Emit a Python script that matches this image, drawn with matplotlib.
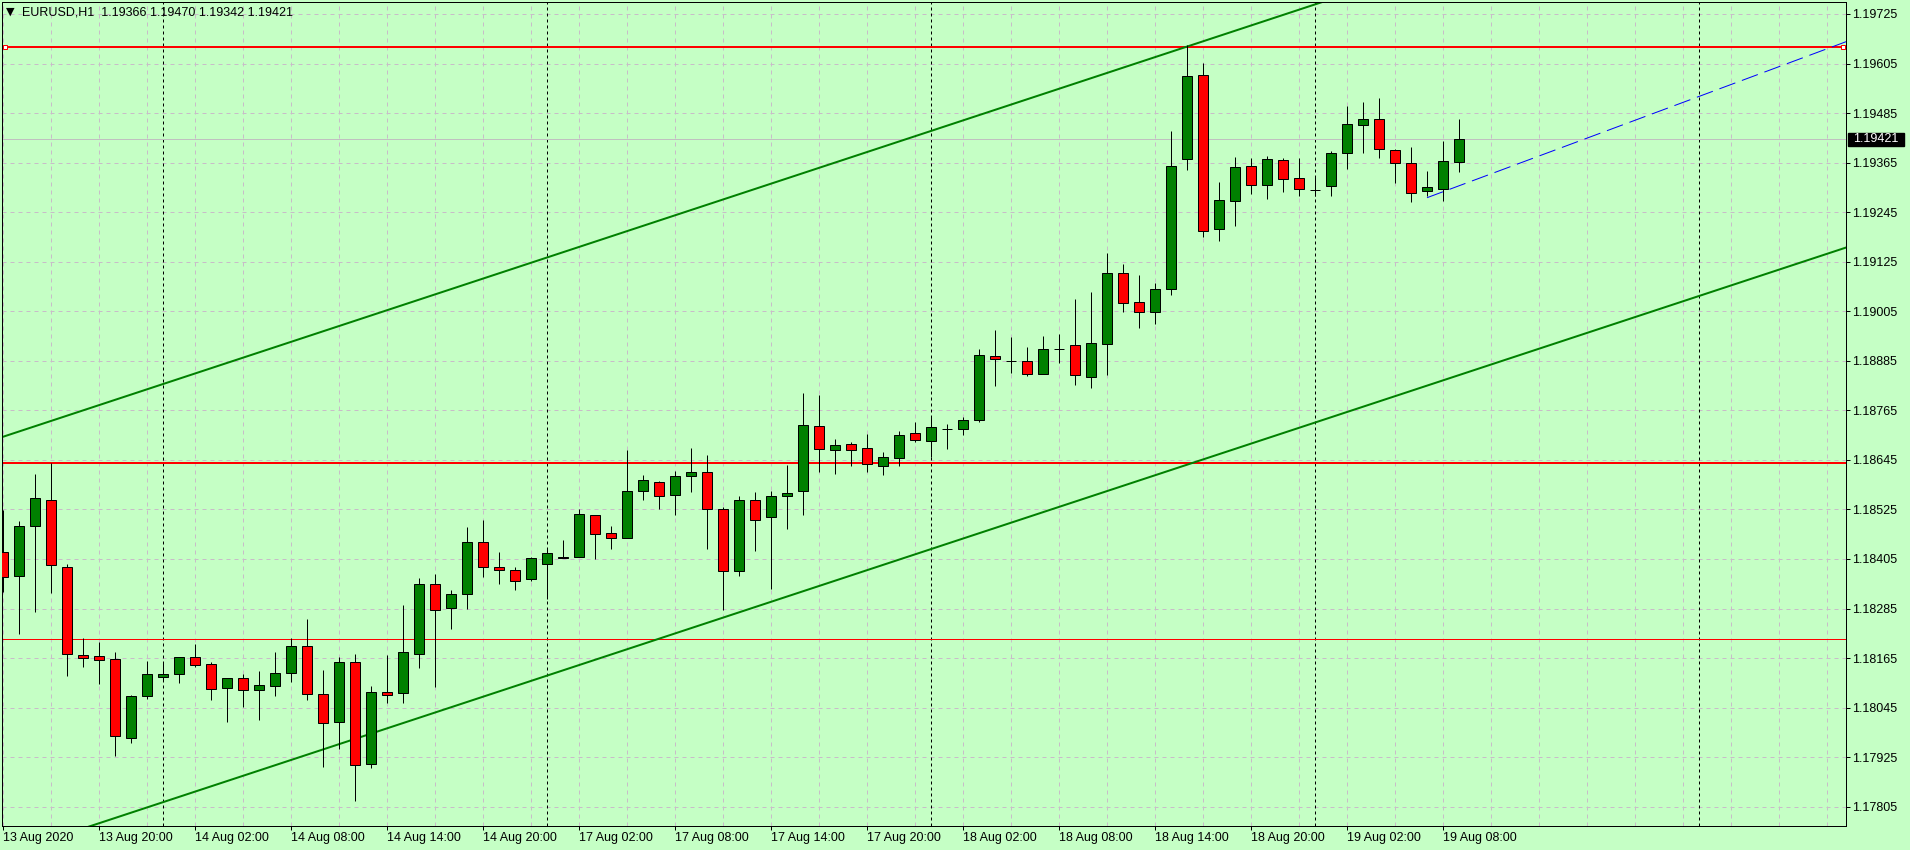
import numpy as np
import matplotlib
matplotlib.use('Agg')
import matplotlib.pyplot as plt
from matplotlib.patches import Rectangle

plt.rcParams['font.family'] = ['Liberation Sans', 'DejaVu Sans']
plt.rcParams['lines.scale_dashes'] = False

PX = 0.72  # one screen pixel in points at dpi=100

# H1 bars, 13 Aug 2020 14:00 -> 19 Aug 2020 09:00
opens = [1.18421, 1.18363, 1.18484, 1.18547, 1.18385, 1.18172, 1.18169, 1.18162, 1.17971, 1.18074,
         1.18120, 1.18127, 1.18167, 1.18150, 1.18092, 1.18116, 1.18087, 1.18098, 1.18128, 1.18194,
         1.18077, 1.18010, 1.18155, 1.17908, 1.18082, 1.18080, 1.18174, 1.18344, 1.18286, 1.18320,
         1.18445, 1.18385, 1.18378, 1.18356, 1.18392, 1.18407, 1.18409, 1.18511, 1.18467, 1.18455,
         1.18569, 1.18591, 1.18559, 1.18605, 1.18615, 1.18525, 1.18375, 1.18547, 1.18506, 1.18557,
         1.18569, 1.18726, 1.18670, 1.18683, 1.18673, 1.18631, 1.18650, 1.18710, 1.18690, 1.18719,
         1.18719, 1.18741, 1.18896, 1.18884, 1.18884, 1.18852, 1.18914, 1.18923, 1.18845, 1.18925,
         1.19097, 1.19027, 1.19003, 1.19058, 1.19373, 1.19577, 1.19204, 1.19271, 1.19356, 1.19310,
         1.19371, 1.19327, 1.19299, 1.19308, 1.19388, 1.19455, 1.19470, 1.19395, 1.19363, 1.19296,
         1.19300, 1.19366]
highs = [1.18524, 1.18497, 1.18611, 1.18637, 1.18392, 1.18214, 1.18204, 1.18180, 1.18076, 1.18158,
         1.18156, 1.18167, 1.18199, 1.18155, 1.18116, 1.18126, 1.18134, 1.18180, 1.18213, 1.18260,
         1.18136, 1.18167, 1.18174, 1.18097, 1.18172, 1.18294, 1.18358, 1.18369, 1.18329, 1.18483,
         1.18500, 1.18421, 1.18386, 1.18409, 1.18431, 1.18451, 1.18525, 1.18511, 1.18485, 1.18669,
         1.18608, 1.18593, 1.18618, 1.18673, 1.18656, 1.18530, 1.18557, 1.18567, 1.18569, 1.18632,
         1.18806, 1.18802, 1.18696, 1.18688, 1.18708, 1.18663, 1.18715, 1.18737, 1.18751, 1.18732,
         1.18749, 1.18913, 1.18959, 1.18943, 1.18918, 1.18945, 1.18950, 1.19035, 1.19052, 1.19146,
         1.19120, 1.19093, 1.19074, 1.19442, 1.19651, 1.19606, 1.19317, 1.19379, 1.19376, 1.19381,
         1.19376, 1.19376, 1.19332, 1.19393, 1.19502, 1.19512, 1.19522, 1.19399, 1.19403, 1.19345,
         1.19417, 1.19470]
lows = [1.18326, 1.18224, 1.18277, 1.18323, 1.18122, 1.18144, 1.18103, 1.17929, 1.17960, 1.18067,
        1.18112, 1.18105, 1.18144, 1.18064, 1.18009, 1.18047, 1.18016, 1.18074, 1.18108, 1.18064,
        1.17900, 1.17946, 1.17819, 1.17899, 1.18057, 1.18057, 1.18142, 1.18096, 1.18236, 1.18284,
        1.18362, 1.18345, 1.18331, 1.18351, 1.18309, 1.18407, 1.18409, 1.18405, 1.18428, 1.18455,
        1.18549, 1.18527, 1.18512, 1.18568, 1.18430, 1.18281, 1.18363, 1.18425, 1.18333, 1.18478,
        1.18511, 1.18616, 1.18612, 1.18630, 1.18615, 1.18608, 1.18631, 1.18688, 1.18653, 1.18672,
        1.18705, 1.18736, 1.18825, 1.18856, 1.18847, 1.18852, 1.18880, 1.18827, 1.18818, 1.18851,
        1.19004, 1.18965, 1.18973, 1.19044, 1.19346, 1.19186, 1.19174, 1.19212, 1.19289, 1.19278,
        1.19295, 1.19285, 1.19284, 1.19285, 1.19350, 1.19389, 1.19375, 1.19316, 1.19270, 1.19283,
        1.19273, 1.19342]
closes = [1.18361, 1.18484, 1.18552, 1.18390, 1.18174, 1.18166, 1.18160, 1.17976, 1.18073, 1.18126,
          1.18127, 1.18167, 1.18149, 1.18089, 1.18116, 1.18087, 1.18099, 1.18128, 1.18194, 1.18077,
          1.18007, 1.18155, 1.17905, 1.18082, 1.18076, 1.18179, 1.18344, 1.18281, 1.18320, 1.18445,
          1.18385, 1.18378, 1.18351, 1.18407, 1.18419, 1.18409, 1.18513, 1.18466, 1.18455, 1.18569,
          1.18596, 1.18557, 1.18605, 1.18615, 1.18525, 1.18375, 1.18547, 1.18499, 1.18557, 1.18564,
          1.18729, 1.18671, 1.18680, 1.18670, 1.18634, 1.18651, 1.18705, 1.18693, 1.18724, 1.18721,
          1.18741, 1.18898, 1.18889, 1.18884, 1.18852, 1.18913, 1.18914, 1.18850, 1.18927, 1.19097,
          1.19024, 1.19003, 1.19058, 1.19356, 1.19574, 1.19199, 1.19274, 1.19354, 1.19310, 1.19373,
          1.19325, 1.19300, 1.19299, 1.19388, 1.19458, 1.19470, 1.19397, 1.19363, 1.19291, 1.19305,
          1.19368, 1.19421]

time_labels = ['13 Aug 2020', '13 Aug 20:00', '14 Aug 02:00', '14 Aug 08:00', '14 Aug 14:00',
               '14 Aug 20:00', '17 Aug 02:00', '17 Aug 08:00', '17 Aug 14:00', '17 Aug 20:00',
               '18 Aug 02:00', '18 Aug 08:00', '18 Aug 14:00', '18 Aug 20:00', '19 Aug 02:00',
               '19 Aug 08:00']
label_bars = [0, 6, 12, 18, 24, 30, 36, 42, 48, 54, 60, 66, 72, 78, 84, 90]
day_starts = [10, 34, 58, 82, 106]
price_ticks = [1.17805, 1.17925, 1.18045, 1.18165, 1.18285, 1.18405, 1.18525, 1.18645, 1.18765,
               1.18885, 1.19005, 1.19125, 1.19245, 1.19365, 1.19485, 1.19605, 1.19725]

# drawn objects
level_top = 1.19646
level_mid = 1.18638
level_low = 1.18210
level_top_anchors = [0.125, 115.0]
channel_p1 = (0, 1.18701)
channel_p2 = (74, 1.19646)
channel_p3 = (24.8, 1.18005)
trend_bars = [89, 115.2]
trend_prices = [1.19280, 1.19658]
bid = 1.19421

BG = '#c5ffc5'
BULL = '#008000'
BEAR = '#ff0000'

xmin, xmax = -0.0625, 115.1875
ymin, ymax = 1.177583, 1.197540

fig = plt.figure(figsize=(19.1, 8.5), dpi=100, facecolor=BG)
ax = fig.add_axes([2 / 1910, 24 / 850, 1844 / 1910, 824 / 850])
ax.set_facecolor(BG)
ax.set_xlim(xmin, xmax)
ax.set_ylim(ymin, ymax)

o = np.array(opens)
h = np.array(highs)
l = np.array(lows)
c = np.array(closes)
x = np.arange(len(o))

# grid and period separators
ax.set_xticks(label_bars)
ax.set_xticklabels(time_labels, ha='left')
ax.set_xticks(np.arange(0, 116, 3), minor=True)
ax.set_yticks(price_ticks)
ax.set_yticklabels(['%.5f' % p for p in price_ticks])
grid_style = dict(color='#c8bcc8', linewidth=PX, linestyle=(0, (4 * PX, 4 * PX)))
ax.grid(True, which='both', axis='x', **grid_style)
ax.grid(True, which='major', axis='y', **grid_style)
ax.set_axisbelow(True)
for d in day_starts:
    ax.axvline(d, color='black', linewidth=PX, linestyle=(0, (3 * PX, 3 * PX)), zorder=1)

# price levels
ax.axhline(bid, color='#c0c0c0', linewidth=PX, zorder=1.5)
ax.axhline(level_top, color='red', linewidth=2 * PX, zorder=2)
ax.axhline(level_mid, color='red', linewidth=2 * PX, zorder=2)
ax.axhline(level_low, color='red', linewidth=PX, zorder=2)

# equidistant channel
slope = (channel_p2[1] - channel_p1[1]) / (channel_p2[0] - channel_p1[0])
xs = np.array([xmin, xmax])
upper = channel_p1[1] + slope * (xs - channel_p1[0])
offset = channel_p1[1] + slope * (channel_p3[0] - channel_p1[0]) - channel_p3[1]
ax.plot(xs, upper, color=BULL, linewidth=2 * PX, zorder=2)
ax.plot(xs, upper - offset, color=BULL, linewidth=2 * PX, zorder=2)

# trend line
ax.plot(trend_bars, trend_prices, color='blue', linewidth=PX,
        linestyle=(0, (17 * PX, 7 * PX)), zorder=2)

# candles
ax.vlines(x, l, h, color='black', linewidth=PX, zorder=3)
colors = [BULL if cc >= oo else BEAR for oo, cc in zip(o, c)]
ax.bar(x, c - o, bottom=o, width=0.6, color=colors, edgecolor='black',
       linewidth=PX, zorder=4)

# selected object handles
ax.plot(level_top_anchors, [level_top, level_top], linestyle='none', marker='s',
        markersize=5 * PX, markerfacecolor='white', markeredgecolor='red',
        markeredgewidth=PX, zorder=5, clip_on=False)

# axes look
for s in ax.spines.values():
    s.set_color('black')
    s.set_linewidth(PX)
ax.yaxis.tick_right()
ax.tick_params(axis='y', which='major', direction='out', length=4 * PX, width=PX,
               pad=2 * PX, labelsize=9, colors='black')
ax.tick_params(axis='x', which='major', direction='out', length=4 * PX, width=PX,
               pad=2 * PX, labelsize=9, colors='black')
ax.tick_params(axis='x', which='minor', length=0)

# bid label on the price scale
ax.add_patch(Rectangle((1.0011, bid - 6.5 * 2.422e-5), 0.0304, 13 * 2.422e-5,
                       transform=ax.get_yaxis_transform(), color='black', clip_on=False, zorder=6))
ax.text(1.0011 + 0.0152, bid, '%.5f' % bid, transform=ax.get_yaxis_transform(),
        ha='center', va='center', color='white', fontsize=9, zorder=7, clip_on=False)

# header
ax.text(0.0046, 0.988, '\u25bc', transform=ax.transAxes, ha='center', va='center',
        fontsize=8, family=['DejaVu Sans'])
ax.text(0.0107, 0.987, '%s  %.5f %.5f %.5f %.5f' % ('EURUSD,H1', opens[-1], highs[-1], lows[-1], closes[-1]),
        transform=ax.transAxes, ha='left', va='center', fontsize=9)

fig.savefig('out.png', dpi=100, facecolor=BG)
